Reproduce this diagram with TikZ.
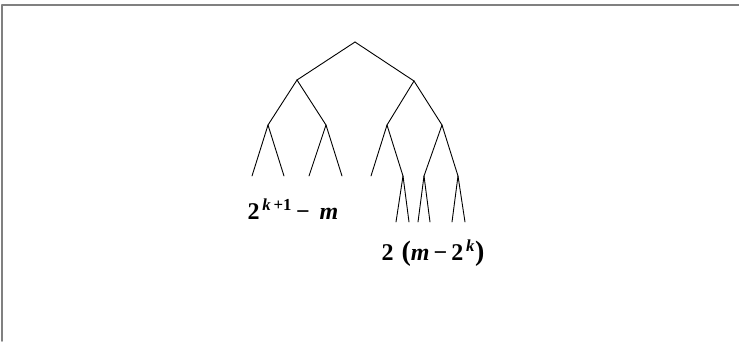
\documentclass[tikz,border=0pt]{standalone}
\usepackage{fontspec}
\setmainfont{Liberation Serif}
\usetikzlibrary{positioning}
\definecolor{frameGray}{HTML}{808080}
\newcommand{\bigpar}[1]{{\fontsize{28}{28}\selectfont#1}}

\begin{document}
\begin{tikzpicture}[x=1pt,y=-1pt,line cap=round,line join=round]
\useasboundingbox (0,0) rectangle (739,341);
\tikzset{edge/.style={draw=black,line width=0.9pt},frameline/.style={draw=frameGray,line width=1.6pt},lbl/.style={font=\bfseries\fontsize{24}{28}\selectfont,inner sep=0pt}}
% frame
\draw[frameline] (2,341) -- (2,5) -- (739,5);
% tree nodes
\coordinate (root) at (355,42);
\coordinate (l1) at (297,80);
\coordinate (r1) at (414,81);
\coordinate (ll) at (268,125);
\coordinate (lr) at (326,125);
\coordinate (rl) at (387,125);
\coordinate (rr) at (442,125);
\coordinate (lla) at (252,176);
\coordinate (llb) at (284,176);
\coordinate (lra) at (309,176);
\coordinate (lrb) at (342,176);
\coordinate (rla) at (371,176);
\coordinate (rlb) at (403,176);
\coordinate (rra) at (424,176);
\coordinate (rrb) at (458,176);
\coordinate (rlba) at (396,222);
\coordinate (rlbb) at (409,222);
\coordinate (rraa) at (418,222);
\coordinate (rrab) at (430,222);
\coordinate (rrba) at (452,222);
\coordinate (rrbb) at (465,222);
% edges
\foreach \a/\b in {root/l1,root/r1,l1/ll,l1/lr,r1/rl,r1/rr,ll/lla,ll/llb,lr/lra,lr/lrb,rl/rla,rl/rlb,rr/rra,rr/rrb,rlb/rlba,rlb/rlbb,rra/rraa,rra/rrab,rrb/rrba,rrb/rrbb}
  \draw[edge] (\a) -- (\b);
% labels
\node[lbl] (cntleft) at (293,209) {2\textsuperscript{\,\textit{k}\,+1}\,−\, \textit{m}};
\node[lbl] (cntright) at (433,253) {2\,\,\bigpar{(}\textit{m}\,−\,2\textsuperscript{\,\textit{k}}\bigpar{)}};
\end{tikzpicture}
\end{document}
